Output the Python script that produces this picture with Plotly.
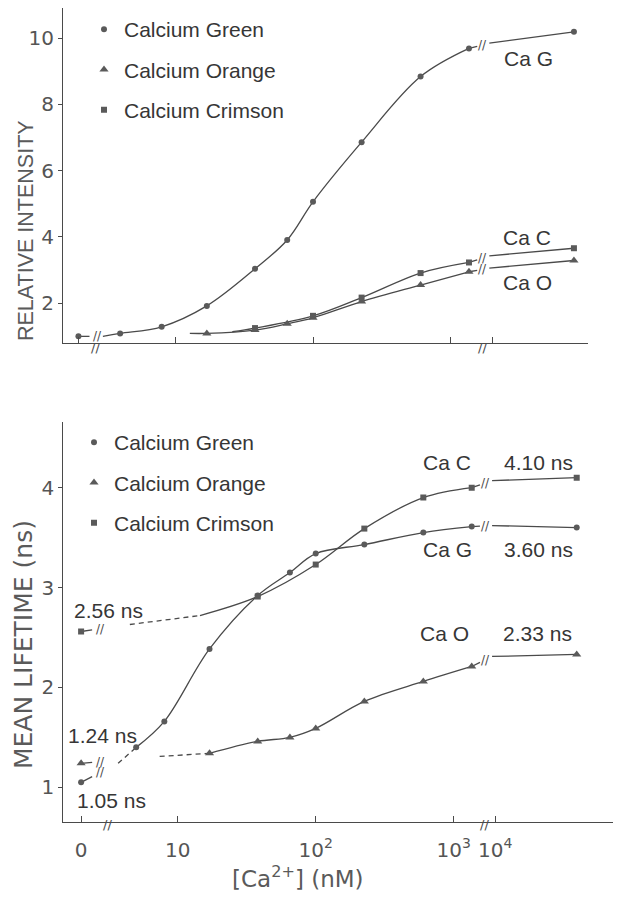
import math
import plotly.graph_objects as go

# ---------------- data ----------------
series_names = ["Calcium Green", "Calcium Orange", "Calcium Crimson"]
short_labels = ["Ca G", "Ca O", "Ca C"]

tick_conc = [0, 10, 100, 1000, 10000]
tick_labels = ["0", "10", "10<sup>2</sup>", "10<sup>3</sup>", "10<sup>4</sup>"]
int_ticks = [2, 4, 6, 8, 10]
life_ticks = [1, 2, 3, 4]

# upper panel: relative intensity vs [Ca2+] (nM)
green_int_conc = [0, 4, 8, 17, 38, 65, 100, 225, 602, 1350, 39000]
green_int = [1.00, 1.09, 1.29, 1.92, 3.04, 3.91, 5.06, 6.86, 8.84, 9.69, 10.19]
orange_int_conc = [17, 38, 65, 100, 225, 602, 1350, 39000]
orange_int = [1.09, 1.19, 1.38, 1.56, 2.05, 2.55, 2.95, 3.29]
crimson_int_conc = [38, 100, 225, 602, 1350, 39000]
crimson_int = [1.25, 1.62, 2.17, 2.91, 3.23, 3.66]
# where each fitted curve begins (conc, value), green / orange / crimson
int_fit_start_conc = [3, 12.8, 26]
int_fit_start_val = [1.00, 1.09, 1.14]
# value where each curve resumes after the high-concentration break
int_tail_start_val = [9.85, 3.06, 3.43]

# lower panel: mean lifetime (ns) vs [Ca2+] (nM)
green_life_conc = [0, 5, 8, 17, 38, 65, 100, 225, 602, 1350, 39000]
green_life = [1.05, 1.40, 1.66, 2.385, 2.92, 3.15, 3.34, 3.43, 3.55, 3.61, 3.60]
orange_life_conc = [0, 17, 38, 65, 100, 225, 602, 1350, 39000]
orange_life = [1.24, 1.34, 1.46, 1.50, 1.59, 1.86, 2.06, 2.21, 2.33]
crimson_life_conc = [0, 38, 100, 225, 602, 1350, 39000]
crimson_life = [2.56, 2.91, 3.23, 3.59, 3.90, 4.00, 4.10]
# dashed (extrapolated) parts of the fitted curves, green / orange / crimson
life_dash_conc = [[3.7, 5], [7.4, 17], [4.5, 14.5]]
life_dash_val = [[1.24, 1.40], [1.31, 1.34], [2.63, 2.72]]
life_tail_start_val = [3.62, 2.31, 4.07]

tail_start_conc = 9500

# ---------------- styling / geometry ----------------
# the page body has an 8px margin, so the figure starts at (8, 8) in the window
OX, OY = 8, 8
W, H = 614, 892
LINE = "#4a4a4a"
MARK = "#5a5a5a"
TEXT = "#363636"
TICKTXT = "#555555"
SANS = "Liberation Sans, Arial, Helvetica, sans-serif"
TICKFONT = "DejaVu Sans, Liberation Sans, sans-serif"


def fx(px):
    return min(1.0, max(0.0, (px - OX) / W))


def fy(py):
    return min(1.0, max(0.0, 1 - (py - OY) / H))


ZERO_POS = 0.30      # where "0" sits on the broken log axis
HIGH_SHIFT = 0.70    # decades removed by the break between 10^3 and 10^4
HIGH_MIN = 5000
STUB_L_END = 0.38
BREAK_L = 0.44
STUB_R_END = 3.19
BREAK_R = 3.23

symbols = ["circle", "triangle-up", "square"]
msizes = [6, 8, 6]


def xpos(c):
    if c == 0:
        return ZERO_POS
    l = math.log10(c)
    return l - HIGH_SHIFT if c >= HIGH_MIN else l


def lerp_at(x, p0, p1):
    (x0, y0), (x1, y1) = p0, p1
    return y0 + (y1 - y0) * (x - x0) / (x1 - x0)


fig = go.Figure()


def add_line(xs, ys, xa, ya, dash="solid", shape="spline"):
    fig.add_trace(go.Scatter(
        x=xs, y=ys, xaxis=xa, yaxis=ya, mode="lines",
        line=dict(color=LINE, width=1.3, dash=dash, shape=shape, smoothing=1.0),
        showlegend=False, hoverinfo="skip"))


def brk(x, y, xa, ya, size=12, yshift=0):
    fig.add_annotation(x=x, y=y, xref=xa, yref=ya, text="//", showarrow=False,
                       font=dict(size=size, color=LINE, family=TICKFONT),
                       xanchor="center", yanchor="middle", yshift=yshift)


def draw(i, conc, vals, xa, ya, fit_start=None, dash_c=None, dash_v=None, tail_val=None):
    xs = [xpos(c) for c in conc]
    mid = [(x, v) for c, x, v in zip(conc, xs, vals) if 0 < c < HIGH_MIN]
    if dash_c is not None:
        dpts = [(xpos(c), v) for c, v in zip(dash_c, dash_v)]
        add_line([p[0] for p in dpts], [p[1] for p in dpts], xa, ya, dash="5px,4px")
        start = dpts[-1]
        first_after = dpts[0]
    else:
        start = (xpos(fit_start[0]), fit_start[1])
        first_after = start
    curve = [start] + [p for p in mid if p[0] > start[0] + 1e-9]
    add_line([p[0] for p in curve], [p[1] for p in curve], xa, ya)
    if conc[0] == 0:
        z = (xs[0], vals[0])
        add_line([z[0], STUB_L_END], [z[1], lerp_at(STUB_L_END, z, first_after)], xa, ya, shape="linear")
        brk(BREAK_L, lerp_at(BREAK_L, z, first_after), xa, ya)
    last_mid = mid[-1]
    tail0 = (xpos(tail_start_conc), tail_val)
    add_line([last_mid[0], STUB_R_END], [last_mid[1], lerp_at(STUB_R_END, last_mid, tail0)], xa, ya, shape="linear")
    brk(BREAK_R, lerp_at(BREAK_R, last_mid, tail0), xa, ya)
    add_line([tail0[0], xs[-1]], [tail0[1], vals[-1]], xa, ya)


top_conc = [green_int_conc, orange_int_conc, crimson_int_conc]
top_vals = [green_int, orange_int, crimson_int]
bot_conc = [green_life_conc, orange_life_conc, crimson_life_conc]
bot_vals = [green_life, orange_life, crimson_life]

for i in range(3):
    draw(i, top_conc[i], top_vals[i], "x", "y",
         fit_start=(int_fit_start_conc[i], int_fit_start_val[i]),
         tail_val=int_tail_start_val[i])
    draw(i, bot_conc[i], bot_vals[i], "x2", "y2",
         dash_c=life_dash_conc[i], dash_v=life_dash_val[i],
         tail_val=life_tail_start_val[i])

for i in range(3):
    fig.add_trace(go.Scatter(
        x=[xpos(c) for c in top_conc[i]], y=top_vals[i], xaxis="x", yaxis="y",
        mode="markers", name=series_names[i], legend="legend", legendgroup="t%d" % i,
        marker=dict(symbol=symbols[i], size=msizes[i], color=MARK, line=dict(width=0))))
for i in range(3):
    fig.add_trace(go.Scatter(
        x=[xpos(c) for c in bot_conc[i]], y=bot_vals[i], xaxis="x2", yaxis="y2",
        mode="markers", name=series_names[i], legend="legend2", legendgroup="b%d" % i,
        marker=dict(symbol=symbols[i], size=msizes[i], color=MARK, line=dict(width=0))))

# axis break marks
brk(0.42, 0, "x", "y domain", 13, -5)
brk(3.225, 0, "x", "y domain", 13, -5)
brk(0.49, 0, "x2", "y2 domain", 13, -3)
brk(3.22, 0, "x2", "y2 domain", 13, -3)


def label(px, py, text, size=21, anchor="center"):
    fig.add_annotation(x=fx(px), y=fy(py), xref="paper", yref="paper", text=text,
                       showarrow=False, xanchor=anchor, yanchor="middle",
                       font=dict(size=size, color=TEXT, family=SANS))


# curve labels, upper panel
label(528, 58, short_labels[0])
label(527, 283, short_labels[1])
label(527, 237, short_labels[2])
# curve labels, lower panel
label(447, 549, short_labels[0])
label(444, 633, short_labels[1])
label(447, 462, short_labels[2])
label(538, 549, "%.2f ns" % green_life[-1])
label(537, 633, "%.2f ns" % orange_life[-1])
label(538, 462, "%.2f ns" % crimson_life[-1])
label(108, 610, "%.2f ns" % crimson_life[0])
label(102, 735, "%.2f ns" % orange_life[0])
label(111, 800, "%.2f ns" % green_life[0])

# axis titles
fig.add_annotation(x=fx(26), y=fy(231), xref="paper", yref="paper", text="RELATIVE INTENSITY",
                   textangle=-90, showarrow=False, xanchor="center", yanchor="middle",
                   font=dict(size=21.5, color="#5a5a5a", family=SANS))
fig.add_annotation(x=fx(23), y=fy(645), xref="paper", yref="paper", text="MEAN LIFETIME (ns)",
                   textangle=-90, showarrow=False, xanchor="center", yanchor="middle",
                   font=dict(size=25, color="#5a5a5a", family=TICKFONT))
fig.add_annotation(x=fx(298), y=fy(877), xref="paper", yref="paper",
                   text="[Ca<sup>2+</sup>] (nM)", showarrow=False, xanchor="center", yanchor="middle",
                   font=dict(size=23, color="#5a5a5a", family=TICKFONT))

axis_common = dict(showgrid=False, zeroline=False, showline=True, linecolor=LINE,
                   linewidth=1.2, tickcolor=LINE, tickwidth=1.2, automargin=False,
                   tickfont=dict(size=20, color=TICKTXT, family=TICKFONT))
tickpos = [xpos(c) for c in tick_conc]

fig.update_layout(
    width=W, height=H, margin=dict(l=0, r=0, t=0, b=0, autoexpand=False),
    paper_bgcolor="white", plot_bgcolor="rgba(0,0,0,0)",
    xaxis=dict(domain=[fx(63), fx(588)], range=[0.188, 3.993], anchor="y",
               tickvals=tickpos, ticks="inside", ticklen=6, showticklabels=False, **axis_common),
    yaxis=dict(domain=[fy(343), fy(8)], range=[0.80, 10.91], anchor="x",
               tickvals=int_ticks, ticks="outside", ticklen=4, **axis_common),
    xaxis2=dict(domain=[fx(63.3), fx(613)], range=[0.171, 4.154], anchor="y2",
                tickvals=tickpos, ticktext=tick_labels, ticks="inside", ticklen=6,
                ticklabelstandoff=10, **axis_common),
    yaxis2=dict(domain=[fy(821.7), fy(421.7)], range=[0.656, 4.66], anchor="x2",
                tickvals=life_ticks, ticks="outside", ticklen=4, **axis_common),
    legend=dict(x=fx(84), y=fy(9), xanchor="left", yanchor="top",
                bgcolor="rgba(0,0,0,0)", tracegroupgap=10,
                font=dict(size=21, color=TEXT, family=SANS)),
    legend2=dict(x=fx(74), y=fy(422), xanchor="left", yanchor="top",
                 bgcolor="rgba(0,0,0,0)", tracegroupgap=10,
                 font=dict(size=21, color=TEXT, family=SANS)),
)

fig.write_html("out.html")
